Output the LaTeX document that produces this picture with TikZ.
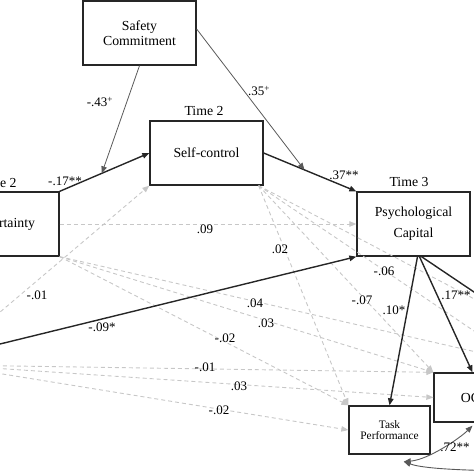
\documentclass[tikz,border=0pt]{standalone}
\usepackage{fontspec}
\setmainfont{Liberation Serif}
\usetikzlibrary{arrows.meta}

\begin{document}
\begin{tikzpicture}
    [x = 1pt, y = -1pt,
     box/.style = {draw = black!85, line width = 1.3pt, align = center, inner sep = 0pt,
                   minimum width = 113pt, minimum height = 64pt, font = \fontsize{13.8}{15}\selectfont},
     smallbox/.style = {minimum width = 81pt, minimum height = 48pt, font = \fontsize{11.4}{11.5}\selectfont},
     tlabel/.style = {inner sep = 0pt, font = \fontsize{13.8}{15}\selectfont},
     coef/.style = {inner sep = 0pt, font = \fontsize{13}{14}\selectfont},
     effect/.style = {draw = black!85, line width = 1.4pt, -{Triangle[length = 7pt, width = 5.5pt]}},
     moder/.style = {draw = black!65, line width = .8pt, -{Triangle[length = 7pt, width = 5.5pt]}},
     dashline/.style = {draw = black!22, line width = .9pt, dash pattern = on 4pt off 3pt,
                        -{Triangle[length = 7pt, width = 5.5pt]}},
     cov/.style = {draw = black!65, line width = .9pt}]
    \useasboundingbox (0,0) rectangle (474,474);
    \clip (0,0) rectangle (474,474);

    % boxes
    \node[box] (scm) at (139.5,33) {Safety\\Commitment};
    \node[box] (sc) at (206.5,153) {Self-control};
    \node[box] (unc) at (2.5,224) {Uncertainty};
    \node[box, font = \fontsize{13.8}{21}\selectfont] (pc) at (413.5,224) {Psychological\\Capital};
    \node[box, smallbox] (tp) at (389.5,430) {Task\\Performance};
    \node[box, minimum width = 73pt, minimum height = 49pt] (oc) at (470.5,397.5) {OC};

    \node[tlabel] (t2a) at (-3,183) {Time 2};
    \node[tlabel] (t2b) at (204,111) {Time 2};
    \node[tlabel] (t3) at (409,182) {Time 3};

    % ends outside the picture
    \coordinate (t1a) at (-53,357);
    \coordinate (t1b) at (-53,365);
    \coordinate (rta) at (520,323);
    \coordinate (rtb) at (520,362);
    \coordinate (rtc) at (540,471);
    \coordinate (scb) at ([xshift = -5pt]sc.south east);
    \coordinate (tpc) at ([yshift = -7pt]tp.-60);
    \coordinate (ocb) at ([shift = {(2pt,-3pt)}]oc.south);

    % non significant paths
    \foreach \from/\to in {unc.east/pc.west, unc.south east/tp.north west, unc.south east/oc.north west,
                           unc.south east/rtb, t1a/sc.south west, t1b/oc.north west, t1b/oc.west,
                           t1b/tp.west, scb/tp.north west, scb/oc.north west, scb/rtb, scb/rta}
      \draw[dashline] (\from) -- (\to);

    % significant paths
    \draw[effect] (unc.north east) -- coordinate[pos = .47] (m1) (sc.west);
    \draw[effect] (sc.east) -- coordinate[pos = .44] (m2) (pc.north west);
    \draw[effect] (t1a) -- (pc.south west);
    \draw[effect] ([xshift = 4pt]pc.south) -- (tp.north);
    \draw[effect] ([xshift = 6pt]pc.south) -- ([xshift = 2pt]oc.north);
    \draw[effect, -] ([xshift = 8pt]pc.south) -- (rta);

    % moderation
    \draw[moder] (scm.south) -- (m1);
    \draw[moder] ([yshift = 4pt]scm.east) -- (m2);

    % covariances
    \draw[cov, {Triangle[length = 7pt, width = 5.5pt]}-{Triangle[length = 7pt, width = 5.5pt]}]
      (tpc) .. controls +(25,-2) and +(-12,12) .. (ocb);
    \draw[cov, {Triangle[length = 7pt, width = 5.5pt]}-] (tpc) .. controls +(25,9) and +(-40,0) .. (rtc);

    % coefficients
    \node[coef] (c1) at (65,181) {-.17**};
    \node[coef] (c2) at (100,102) {-.43\textsuperscript{+}};
    \node[coef] (c3) at (259,91) {.35\textsuperscript{+}};
    \node[coef] (c4) at (344,175) {.37**};
    \node[coef] (c5) at (205,229) {.09};
    \node[coef] (c6) at (280,249) {.02};
    \node[coef] (c7) at (37,295) {-.01};
    \node[coef] (c8) at (102,327) {-.09*};
    \node[coef] (c9) at (255,303) {.04};
    \node[coef] (c10) at (266,323) {.03};
    \node[coef] (c11) at (225,338) {-.02};
    \node[coef] (c12) at (205,367) {-.01};
    \node[coef] (c13) at (239,386) {.03};
    \node[coef] (c14) at (219,410) {-.02};
    \node[coef] (c15) at (384,271) {-.06};
    \node[coef] (c16) at (362,300) {-.07};
    \node[coef] (c17) at (394,310) {.10*};
    \node[coef] (c18) at (456,295) {.17**};
    \node[coef] (c19) at (455,447) {.72**};
\end{tikzpicture}
\end{document}
